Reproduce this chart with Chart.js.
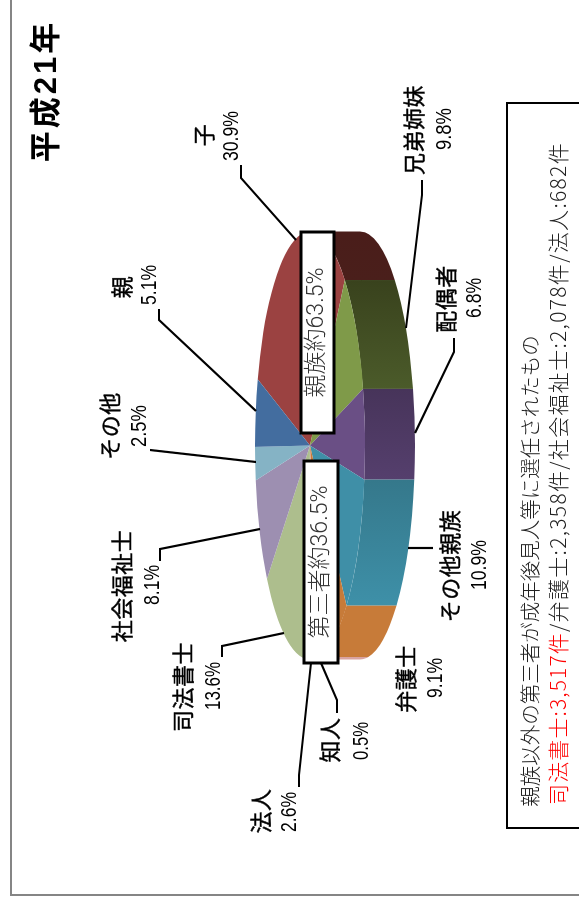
<!DOCTYPE html>
<html lang="ja">
<head>
<meta charset="utf-8">
<title>平成21年</title>
<script src="https://cdn.jsdelivr.net/npm/chart.js@4"></script>
<style>
  html, body { margin: 0; padding: 0; background: #fff; overflow: hidden; }
  body { width: 579px; height: 903px; position: relative; }
  /* The sheet is laid out landscape and turned a quarter to the left. */
  #sheet { position: absolute; left: 0; top: 0; transform-origin: 0 0; transform: translate(0, 903px) rotate(-90deg); }
</style>
</head>
<body>
<canvas id="sheet" width="903" height="579"></canvas>
<script>
// Guardianship appointees, share of all appointments (%)
const categories = ['子', '兄弟姉妹', '配偶者', 'その他親族', '弁護士', '知人', '法人', '司法書士', '社会福祉士', 'その他', '親'];
const shares = [30.9, 9.8, 6.8, 10.9, 9.1, 0.5, 2.6, 13.6, 8.1, 2.5, 5.1];

const faceColors = ['#9b4241', '#7f9a49', '#6a4f85', '#3f8fa7', '#c77b39', '#d49a98', '#d9a3a0', '#adbe8d', '#9d8fb1', '#85b3c5', '#436d9f'];
const wallFrom = ['#4a1d1a', '#39421d', '#47345a', '#35788b', '#c77b39', '#d49a98', '#d9a3a0', '#adbe8d', '#9d8fb1', '#85b3c5', '#436d9f'];
const wallTo = ['#4a1f1b', '#4b5b2a', '#553f6d', '#3e90a8', '#c77b39', '#d49a98', '#d9a3a0', '#adbe8d', '#9d8fb1', '#85b3c5', '#436d9f'];

// Label columns: page x of name and percent, page y of the centre of each.
const labelRows = [
  { name: 0, nx: 204, ny: 135, px: 232, py: 136, pw: 50 },
  { name: 1, nx: 414, ny: 130, px: 445, py: 129, pw: 42 },
  { name: 2, nx: 446, ny: 299, px: 475, py: 298, pw: 40 },
  { name: 3, nx: 450, ny: 566, px: 480, py: 565, pw: 50 },
  { name: 4, nx: 406, ny: 679, px: 436, py: 678, pw: 40 },
  { name: 5, nx: 330, ny: 740, px: 362, py: 741, pw: 38 },
  { name: 6, nx: 261, ny: 811, px: 290, py: 812, pw: 40 },
  { name: 7, nx: 183, ny: 687, px: 214, py: 686, pw: 48 },
  { name: 8, nx: 122, ny: 586, px: 153, py: 585, pw: 40 },
  { name: 9, nx: 110, ny: 426, px: 140, py: 426, pw: 42 },
  { name: 10, nx: 122, ny: 287, px: 150, py: 285, pw: 40 }
];

// Leader lines from each label to its slice, as page coordinates.
const leaders = [
  [[241, 165], [241, 178], [296, 240]],
  [[422, 180], [422, 195], [406, 328]],
  [[454, 338], [454, 352], [415, 433]],
  [[408, 548], [433, 548]],
  [[222, 657], [222, 646], [284, 633]],
  [[337, 713], [337, 700], [321, 663]],
  [[299, 787], [299, 775], [311, 663]],
  [[160, 561], [160, 549], [260, 529]],
  [[150, 450], [256, 462]],
  [[159, 309], [159, 320], [256, 411]]
];

const groupBoxes = [
  { text: '親族約63.5%', left: 301, right: 334, top: 232, bottom: 433 },
  { text: '第三者約36.5%', left: 304, right: 338, top: 461, bottom: 663 }
];

const SHEET_H = 903;
const pageToSheet = (x, y) => [SHEET_H - y, x];
const FACE_RX = 214, FACE_RY = 55, WALL_DEPTH = 50;
const squash = FACE_RY / FACE_RX;
const SANS = '"Liberation Sans", "Noto Sans CJK JP", sans-serif';
const LIGHT = 'Roboto, "Noto Sans CJK JP", sans-serif';
const CJK = '"Noto Sans CJK JP", sans-serif';

function text(ctx, str, x, y, font, color, maxWidth, align) {
  const [u, v] = pageToSheet(x, y);
  ctx.font = font;
  ctx.fillStyle = color;
  ctx.textAlign = align || 'center';
  ctx.textBaseline = 'middle';
  if (maxWidth) ctx.fillText(str, u, v, maxWidth); else ctx.fillText(str, u, v);
}

// Writes a run left-aligned, spaced so that it fills the given length.
function fittedRun(ctx, str, x, y, font, color, length) {
  ctx.font = font;
  ctx.letterSpacing = '0px';
  const natural = ctx.measureText(str).width;
  ctx.letterSpacing = ((length - natural) / str.length).toFixed(3) + 'px';
  text(ctx, str, x, y, font, color, 0, 'left');
  ctx.letterSpacing = '0px';
}

// Squashes the circular pie into an ellipse and extrudes the near half into a wall.
const tiltedPie = {
  id: 'tiltedPie',
  beforeDatasetsDraw(chart) {
    const { ctx } = chart;
    const arcs = chart.getDatasetMeta(0).data;
    const { x: cx, y: cy } = arcs[0];
    ctx.save();
    ctx.translate(cx, cy);
    ctx.scale(1, squash);
    ctx.translate(-cx, -cy);
    const depth = WALL_DEPTH / squash;
    arcs.forEach((arc, i) => {
      const { startAngle, endAngle, outerRadius: r } = arc.getProps(['startAngle', 'endAngle', 'outerRadius']);
      for (const turn of [-2 * Math.PI, 0, 2 * Math.PI]) {
        const a = Math.max(startAngle + turn, 0);
        const b = Math.min(endAngle + turn, Math.PI);
        if (b <= a) continue;
        const grad = ctx.createLinearGradient(cx + r * Math.cos(a), 0, cx + r * Math.cos(b), 0);
        grad.addColorStop(0, wallFrom[i]);
        grad.addColorStop(1, wallTo[i]);
        ctx.fillStyle = grad;
        ctx.beginPath();
        ctx.arc(cx, cy, r, a, b);
        ctx.arc(cx, cy + depth, r, b, a, true);
        ctx.closePath();
        ctx.fill();
      }
    });
  },
  afterDatasetsDraw(chart) {
    chart.ctx.restore();
  }
};

// Frame, title, call-outs and the note box.
const annotations = {
  id: 'annotations',
  afterDraw(chart) {
    const { ctx } = chart;
    ctx.save();

    ctx.strokeStyle = '#858585';
    ctx.lineWidth = 2;
    ctx.beginPath();
    ctx.moveTo(903, 11);
    ctx.lineTo(...pageToSheet(11, 895));
    ctx.lineTo(...pageToSheet(579, 895));
    ctx.stroke();

    ctx.strokeStyle = '#000';
    ctx.lineWidth = 2.2;
    ctx.lineJoin = 'miter';
    leaders.forEach(points => {
      ctx.beginPath();
      points.forEach((p, i) => {
        const [u, v] = pageToSheet(p[0], p[1]);
        if (i) ctx.lineTo(u, v); else ctx.moveTo(u, v);
      });
      ctx.stroke();
    });

    ctx.letterSpacing = '3px';
    text(ctx, '平成21年', 47, 91, `bold 31px ${SANS}`, '#000');
    ctx.letterSpacing = '0px';

    labelRows.forEach(row => {
      ctx.letterSpacing = '0.5px';
      text(ctx, categories[row.name], row.nx, row.ny, `400 22px ${CJK}`, '#000');
      // A hairline outline gives the names their medium weight.
      const [nu, nv] = pageToSheet(row.nx, row.ny);
      ctx.lineWidth = 0.4;
      ctx.strokeText(categories[row.name], nu, nv);
      ctx.letterSpacing = '0px';
      text(ctx, shares[row.name].toFixed(1) + '%', row.px, row.py, `22px ${SANS}`, '#000', row.pw);
    });

    ctx.lineWidth = 3;
    groupBoxes.forEach(box => {
      const [u, v] = pageToSheet(box.left, box.bottom);
      ctx.fillStyle = '#fff';
      ctx.fillRect(u, v, box.bottom - box.top, box.right - box.left);
      ctx.strokeRect(u, v, box.bottom - box.top, box.right - box.left);
      text(ctx, box.text, (box.left + box.right) / 2, (box.top + box.bottom) / 2, `300 23px ${LIGHT}`, '#333');
    });

    const [bu, bv] = pageToSheet(507, 828);
    ctx.lineWidth = 2;
    ctx.strokeStyle = '#000';
    ctx.strokeRect(bu, bv, 828 - 103, 100);
    text(ctx, '親族以外の第三者が成年後見人等に選任されたもの', 530, 571, `300 20.5px ${CJK}`, '#222');
    fittedRun(ctx, '司法書士:3,517件', 558, 805, `300 21px ${CJK}`, '#f00', 173);
    fittedRun(ctx, '/弁護士:2,358件/社会福祉士:2,078件/法人:682件', 558, 632, `300 21px ${CJK}`, '#222', 490);

    ctx.restore();
  }
};

new Chart(document.getElementById('sheet'), {
  type: 'pie',
  data: {
    labels: categories,
    datasets: [{ data: shares, backgroundColor: faceColors, borderWidth: 0, hoverOffset: 0 }]
  },
  options: {
    responsive: false,
    animation: false,
    rotation: 18,
    radius: FACE_RX,
    layout: { padding: { left: 12, top: 41 } },
    plugins: { legend: { display: false }, tooltip: { enabled: false }, title: { display: false } }
  },
  plugins: [tiltedPie, annotations]
});
</script>
</body>
</html>
